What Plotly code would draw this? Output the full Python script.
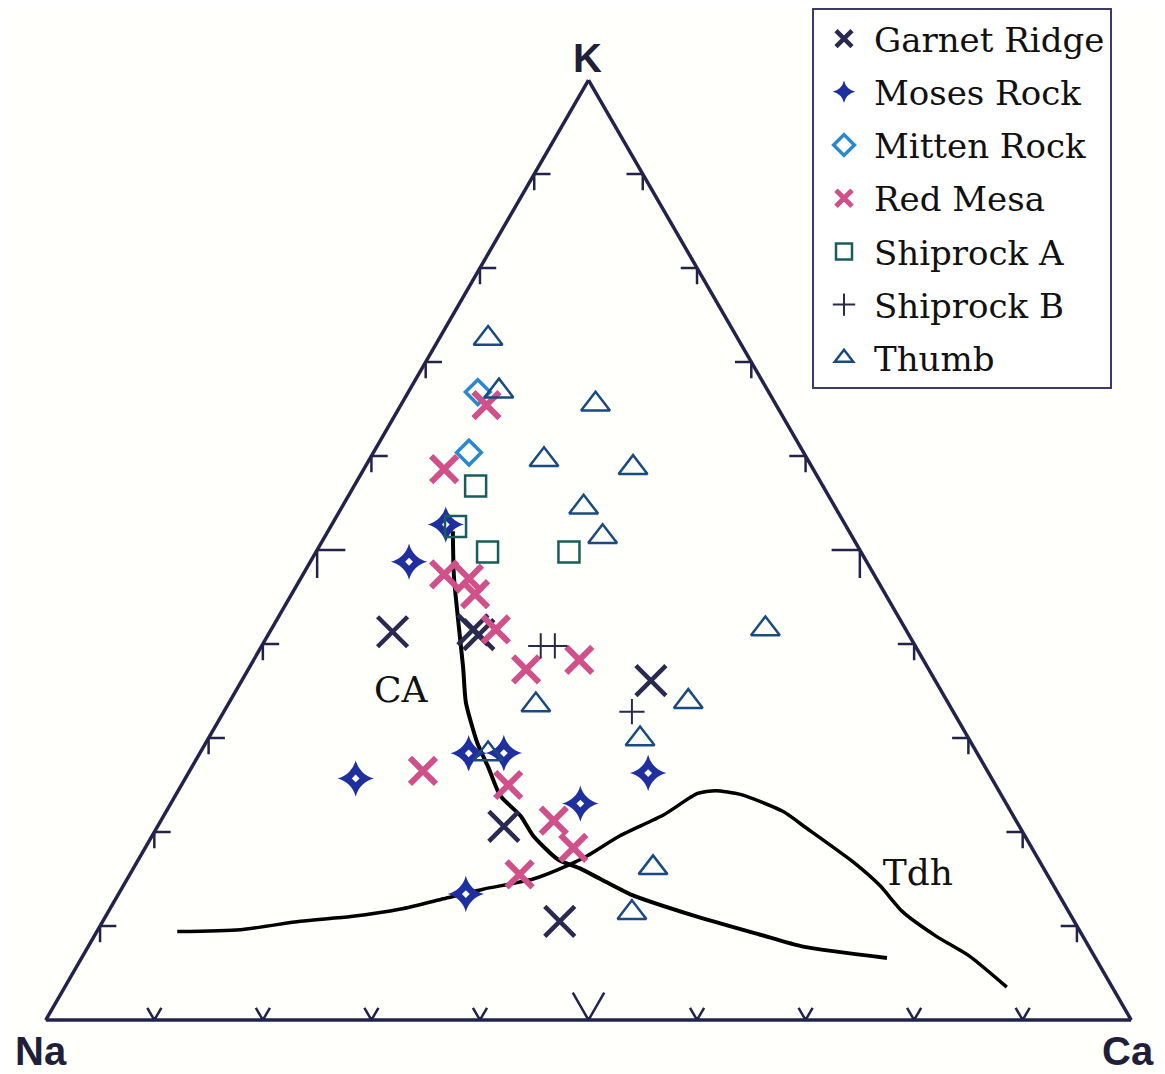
import plotly.graph_objects as go

# ---------------- data (percent K, Na, Ca) ----------------
GARNET_K  = [41.3, 41.5, 41.0, 36.1, 20.6, 10.5]
GARNET_NA = [47.4, 39.9, 39.6, 26.2, 47.5, 47.4]
GARNET_CA = [11.3, 18.6, 19.4, 37.7, 31.9, 42.1]

MOSES_K  = [52.7, 48.8, 25.7, 28.4, 28.4, 26.3, 23.0, 13.4]
MOSES_NA = [36.8, 42.2, 58.6, 46.9, 43.6, 31.4, 39.2, 54.6]
MOSES_CA = [10.5, 9.1, 15.7, 24.8, 28.0, 42.4, 37.7, 32.0]

MITTEN_K  = [66.8, 60.3]
MITTEN_NA = [26.8, 30.8]
MITTEN_CA = [6.4, 8.8]

REDMESA_K  = [65.4, 58.6, 47.4, 46.9, 45.3, 41.6, 37.3, 38.3, 26.5, 25.0, 21.2, 18.3, 15.5]
REDMESA_NA = [26.7, 34.0, 39.6, 37.5, 37.8, 37.8, 37.1, 31.7, 52.0, 44.9, 42.6, 42.2, 48.6]
REDMESA_CA = [7.9, 7.4, 13.0, 15.5, 16.9, 20.7, 25.6, 30.0, 21.5, 30.1, 36.2, 39.4, 35.9]

SHIPA_K  = [56.8, 52.5, 49.8, 49.8]
SHIPA_NA = [32.0, 36.0, 34.4, 26.9]
SHIPA_CA = [11.2, 11.5, 15.8, 23.3]

SHIPB_K  = [39.8, 39.8, 32.8]
SHIPB_NA = [34.5, 33.2, 29.6]
SHIPB_CA = [25.7, 27.0, 37.6]

THUMB_K  = [72.5, 66.9, 65.5, 59.6, 58.7, 54.6, 51.4, 41.6, 33.5, 33.9, 29.9, 28.3, 16.2, 11.4]
THUMB_NA = [23.0, 24.8, 16.6, 24.3, 16.5, 23.2, 23.0, 12.9, 38.1, 23.9, 30.3, 45.1, 36.0, 40.3]
THUMB_CA = [4.5, 8.3, 17.9, 16.1, 24.7, 22.3, 25.6, 45.5, 28.4, 42.3, 39.8, 26.6, 47.9, 48.3]

CA_K  = [52.0, 47.2, 41.8, 37.5, 33.8, 29.5, 26.8, 23.9, 21.7, 19.6, 17.1, 16.1, 15.0, 13.4, 11.0, 9.1, 7.8, 6.6]
CA_NA = [36.5, 38.8, 41.1, 42.8, 44.4, 45.5, 45.8, 46.2, 45.4, 45.3, 44.3, 42.7, 41.4, 39.5, 34.5, 29.7, 26.3, 19.2]
CA_CA = [11.5, 14.0, 17.2, 19.7, 21.8, 25.0, 27.4, 29.9, 32.9, 35.1, 38.6, 41.2, 43.6, 47.1, 54.5, 61.2, 65.8, 74.2]

TDH_K  = [9.4, 9.6, 10.5, 11.0, 11.8, 12.9, 13.9, 15.0, 16.4, 17.5, 19.6, 21.8, 24.1, 24.4, 24.0, 22.2, 20.4, 16.8, 14.3, 11.5, 8.9, 6.8, 3.5]
TDH_NA = [83.1, 77.2, 71.3, 66.4, 61.4, 56.9, 52.7, 47.6, 43.8, 41.4, 37.3, 32.2, 27.9, 26.1, 24.0, 21.0, 19.7, 17.2, 16.0, 15.3, 13.5, 11.5, 9.7]
TDH_CA = [7.4, 13.1, 18.2, 22.6, 26.8, 30.2, 33.3, 37.4, 39.8, 41.2, 43.1, 46.0, 48.0, 49.5, 52.0, 56.8, 59.9, 65.9, 69.7, 73.2, 77.6, 81.7, 86.7]

LABELS = ["CA", "Tdh"]
LABEL_K  = [34.8, 15.3]
LABEL_NA = [49.9, 12.0]
LABEL_CA = [15.3, 72.7]

CORNER_LABELS = ["K", "Na", "Ca"]

TICK_VALUES = [10, 20, 30, 40, 50, 60, 70, 80, 90]
MAJOR_TICK = 50

# ---------------- styles ----------------
BG = "#fffffb"
EDGE = "#23234a"
SERIF = "DejaVu Serif"
SANS = "Liberation Sans"

# page has an 8px default body margin; figure fills the rest of the window
W, H = 1149, 1066

fig = go.Figure()

# tick marks drawn in ternary coordinates
ta, tb, tc = [], [], []
for t in TICK_VALUES:
    d = 2.6 if t == MAJOR_TICK else 1.5
    e = d * 1.15
    # left edge (Na-K), c = 0
    ta += [t, t, t - e, None]
    tb += [100 - t - d, 100 - t, 100 - t + e / 2, None]
    tc += [d, 0, e / 2, None]
    # right edge (K-Ca), b = 0
    ta += [t, t, t - e, None]
    tb += [d, 0, e / 2, None]
    tc += [100 - t - d, 100 - t, 100 - t + e / 2, None]
    # bottom edge (Na-Ca), a = 0
    db = 2.9 if t == MAJOR_TICK else 1.3
    ta += [db, 0, db, None]
    tb += [100 - t - db, 100 - t, 100 - t, None]
    tc += [t, t, t - db, None]

fig.add_trace(go.Scatterternary(a=ta, b=tb, c=tc, mode="lines",
                                line=dict(color=EDGE, width=2.5),
                                showlegend=False, hoverinfo="skip"))

# curves
fig.add_trace(go.Scatterternary(a=CA_K, b=CA_NA, c=CA_CA, mode="lines",
                                line=dict(color="#000000", width=4, shape="spline", smoothing=0.6),
                                showlegend=False, hoverinfo="skip"))
fig.add_trace(go.Scatterternary(a=TDH_K, b=TDH_NA, c=TDH_CA, mode="lines",
                                line=dict(color="#000000", width=3.5, shape="spline", smoothing=0.6),
                                showlegend=False, hoverinfo="skip"))

def add_series(name, a, b, c, symbol, color, size, lw, showlegend=True):
    fig.add_trace(go.Scatterternary(
        a=a, b=b, c=c, mode="markers", name=name, legendgroup=name,
        showlegend=showlegend, hoverinfo="skip" if not showlegend else None,
        marker=dict(symbol=symbol, color=color, size=size,
                    line=dict(color=color, width=lw))))

add_series("Garnet Ridge", GARNET_K, GARNET_NA, GARNET_CA, "x-thin", "#2a2a50", 30, 4.5)
add_series("Moses Rock", MOSES_K, MOSES_NA, MOSES_CA, "star-diamond", "#1f2f9f", 26, 0)
add_series("Moses Rock", MOSES_K, MOSES_NA, MOSES_CA, "diamond", "#ffffff", 6, 0, showlegend=False)
add_series("Mitten Rock", MITTEN_K, MITTEN_NA, MITTEN_CA, "diamond-open", "#2a88d0", 19, 3.5)
add_series("Red Mesa", REDMESA_K, REDMESA_NA, REDMESA_CA, "x-thin", "#d0508a", 26, 6)
add_series("Shiprock A", SHIPA_K, SHIPA_NA, SHIPA_CA, "square-open", "#1a5c5c", 21, 2.5)
add_series("Shiprock B", SHIPB_K, SHIPB_NA, SHIPB_CA, "cross-thin", "#2a2a48", 18, 2)
add_series("Thumb", THUMB_K, THUMB_NA, THUMB_CA, "triangle-up-open", "#1a4a80", 25, 2.5)

# text labels on the diagram
fig.add_trace(go.Scatterternary(a=LABEL_K, b=LABEL_NA, c=LABEL_CA, mode="text",
                                text=LABELS, textposition="middle center",
                                textfont=dict(family=SERIF, size=36, color="#111111"),
                                showlegend=False, hoverinfo="skip", cliponaxis=False))

axis_common = dict(showgrid=False, ticks="", showticklabels=False,
                   linecolor=EDGE, linewidth=3.5, min=0, title=dict(text=""))

corner_font = dict(family=SANS, size=40, color="#1f1f3a", weight="bold")
annotations = [
    dict(text=CORNER_LABELS[0], x=579 / W, y=1 - 50 / H, yanchor="middle"),
    dict(text=CORNER_LABELS[1], x=33 / W, y=0, yanchor="bottom"),
    dict(text=CORNER_LABELS[2], x=1120 / W, y=0, yanchor="bottom"),
]
for ann in annotations:
    ann.update(xref="paper", yref="paper", xanchor="center",
               showarrow=False, font=corner_font, borderpad=0)

fig.update_layout(
    width=W, height=H,
    margin=dict(l=0, r=0, t=0, b=0),
    paper_bgcolor=BG,
    ternary=dict(
        sum=100,
        bgcolor=BG,
        domain=dict(x=[37 / W, 1124 / W], y=[(H - 1012) / H, (H - 72) / H]),
        aaxis=axis_common, baxis=axis_common, caxis=axis_common,
    ),
    annotations=annotations,
    legend=dict(x=804 / W, y=1.0, xanchor="left", yanchor="top",
                bgcolor="#ffffff", bordercolor="#3b3b6b", borderwidth=2,
                font=dict(family=SERIF, size=34, color="#111111"),
                itemwidth=50, traceorder="grouped", tracegroupgap=6),
    showlegend=True,
)

fig.write_html("out.html")
